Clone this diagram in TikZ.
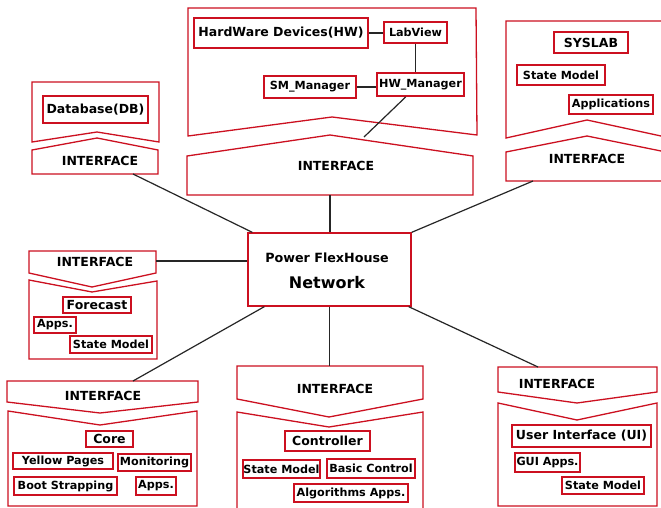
\documentclass[tikz,border=0pt]{standalone}
\usepackage{fontspec}
\setmainfont{DejaVu Sans}
\usetikzlibrary{calc}
\definecolor{dred}{RGB}{204,16,32}
\newcommand\myhfont{\fontsize{12.5}{14}\selectfont\bfseries}
\newcommand\mysfont{\fontsize{11.2}{13}\selectfont\bfseries}
\begin{document}
\begin{tikzpicture}[x=1pt,y=-1pt,
  outline/.style={draw=dred,line width=1.3pt,line join=miter},
  boxh/.style={draw=dred,line width=1.8pt,inner sep=0pt,font=\myhfont},
  boxs/.style={draw=dred,line width=1.8pt,inner sep=0pt,font=\mysfont},
  iftext/.style={inner sep=0pt,font=\myhfont},
  conn/.style={draw=black!85,line width=1.2pt}]
\fill[white] (0,0) rectangle (661,508);
\useasboundingbox (0,0) rectangle (661,508);

% ---------- outlines ----------
% HW group
\draw[outline] (188,8) -- (476,8) -- (477,135) -- (332,117) -- (188,136) -- cycle;
\draw[outline] (187,156) -- (330,135) -- (473,156) -- (473,195) -- (187,195) -- cycle;
% DB group
\draw[outline] (32,82) -- (159,82) -- (159,142) -- (97,132) -- (32,142) -- cycle;
\draw[outline] (32,150) -- (97,138) -- (158,150) -- (158,174) -- (32,174) -- cycle;
% SYSLAB group (open on the right edge)
\draw[outline] (661,21) -- (506,21) -- (506,138) -- (587,120) -- (661,136);
\draw[outline] (661,151) -- (587,136) -- (506,152) -- (506,181) -- (661,181);
% Forecast group
\draw[outline] (29,251) -- (156,251) -- (156,273) -- (92,287) -- (29,273) -- cycle;
\draw[outline] (29,280) -- (92,292) -- (157,281) -- (157,359) -- (29,359) -- cycle;
% Core group
\draw[outline] (7,381) -- (198,381) -- (198,402) -- (100,413) -- (7,402) -- cycle;
\draw[outline] (8,411) -- (100,425) -- (197,411) -- (197,506) -- (8,506) -- cycle;
% Controller group (open at the bottom edge)
\draw[outline] (237,366) -- (423,366) -- (423,399) -- (329,417) -- (237,399) -- cycle;
\draw[outline] (237,508) -- (237,412) -- (329,427) -- (423,412) -- (423,508);
% UI group
\draw[outline] (498,367) -- (657,367) -- (657,392) -- (577,403) -- (498,392) -- cycle;
\draw[outline] (498,403) -- (577,420) -- (657,403) -- (657,506) -- (498,506) -- cycle;

% ---------- INTERFACE labels ----------
\node[iftext] (iftop) at (336,166) {INTERFACE};
\node[iftext] (ifdb)  at (100,161) {INTERFACE};
\node[iftext] (ifsys) at (587,159) {INTERFACE};
\node[iftext] (iffc)  at (95,262)  {INTERFACE};
\node[iftext] (ifcore) at (103,396) {INTERFACE};
\node[iftext] (ifctrl) at (335,389) {INTERFACE};
\node[iftext] (ifui)  at (557,384) {INTERFACE};

% ---------- network ----------
\node[draw=dred,line width=1.3pt,minimum width=163pt,minimum height=73pt,inner sep=0pt] (net) at (329.5,269.5) {};
\node[inner sep=0pt,font=\fontsize{12.7}{14}\selectfont\bfseries] (netl1) at (327,258) {Power FlexHouse};
\node[inner sep=0pt,font=\fontsize{16}{18}\selectfont\bfseries] (netl2) at (327,283) {Network};

% ---------- inner boxes ----------
\node[boxh,minimum width=174pt,minimum height=30pt] (hw) at (281,33) {HardWare Devices(HW)};
\node[boxs,minimum width=63pt,minimum height=21pt] (lab) at (415.5,32.5) {LabView};
\node[boxs,minimum width=92pt,minimum height=22pt] (sm) at (310,87) {SM\_Manager};
\node[boxs,minimum width=87pt,minimum height=23pt] (hwm) at (420.5,84.5) {HW\_Manager};

\node[boxh,minimum width=105pt,minimum height=27pt] (db) at (95.5,109.5) {Database(DB)};

\node[boxh,minimum width=74pt,minimum height=21pt] (sys) at (591,42.5) {SYSLAB};
\node[boxs,minimum width=88pt,minimum height=20pt] (syssm) at (561,75) {State Model};
\node[boxs,minimum width=84pt,minimum height=19pt] (sysapp) at (611,104.5) {Applications};

\node[boxh,minimum width=68pt,minimum height=16pt] (fc) at (97,305) {Forecast};
\node[boxs,minimum width=42pt,minimum height=16pt] (fcapp) at (55,325) {Apps.};
\node[boxs,minimum width=82pt,minimum height=17pt] (fcsm) at (111,344.5) {State Model};

\node[boxh,minimum width=47pt,minimum height=16pt] (core) at (109.5,439) {Core};
\node[boxs,minimum width=100pt,minimum height=16pt] (yp) at (63,461) {Yellow Pages};
\node[boxs,minimum width=73pt,minimum height=17pt] (mon) at (154.5,462.5) {Monitoring};
\node[boxs,minimum width=103pt,minimum height=18pt] (boot) at (65.5,486) {Boot Strapping};
\node[boxs,minimum width=40pt,minimum height=18pt] (coreapp) at (156,486) {Apps.};

\node[boxh,minimum width=85pt,minimum height=20pt] (ctrl) at (327.5,441) {Controller};
\node[boxs,minimum width=77pt,minimum height=18pt] (ctrlsm) at (281.5,469) {State Model};
\node[boxs,minimum width=88pt,minimum height=19pt] (basic) at (371,468.5) {Basic Control};
\node[boxs,minimum width=114pt,minimum height=18pt] (algo) at (351,493) {Algorithms Apps.};

\node[boxh,minimum width=139pt,minimum height=22pt] (ui) at (581.5,436) {User Interface (UI)};
\node[boxs,minimum width=65pt,minimum height=19pt] (gui) at (547.5,462.5) {GUI Apps.};
\node[boxs,minimum width=82pt,minimum height=17pt] (uism) at (603,485.5) {State Model};

% ---------- attach coordinates ----------
\coordinate (hwin) at (364,137);
\coordinate (tifs) at (330,195);
\coordinate (dbifs) at (133,174);
\coordinate (sysifs) at (533,181);
\coordinate (fcife) at (156,261);
\coordinate (coreifn) at (133,381);
\coordinate (ctrlifn) at (330,366);
\coordinate (uiifn) at (538,367);

% ---------- connectors ----------
\draw[conn] (hw.east) -- (hw.east -| lab.west);
\draw[conn] (lab.south) -- (lab.south |- hwm.north);
\draw[conn] (sm.east) -- (sm.east -| hwm.west);
\draw[conn] (hwm.220) -- (hwin);
\draw[conn] (tifs) -- (tifs |- net.north);
\draw[conn] (dbifs) -- ($(net.north west)+(5,0)$);
\draw[conn] (sysifs) -- (net.north east);
\draw[conn] (fcife) -- (fcife -| net.west);
\draw[conn] ($(net.south west)+(17,0)$) -- (coreifn);
\draw[conn] (net.south) -- (net.south |- ctrlifn);
\draw[conn] ($(net.south east)+(-3,0)$) -- (uiifn);
\end{tikzpicture}
\end{document}
